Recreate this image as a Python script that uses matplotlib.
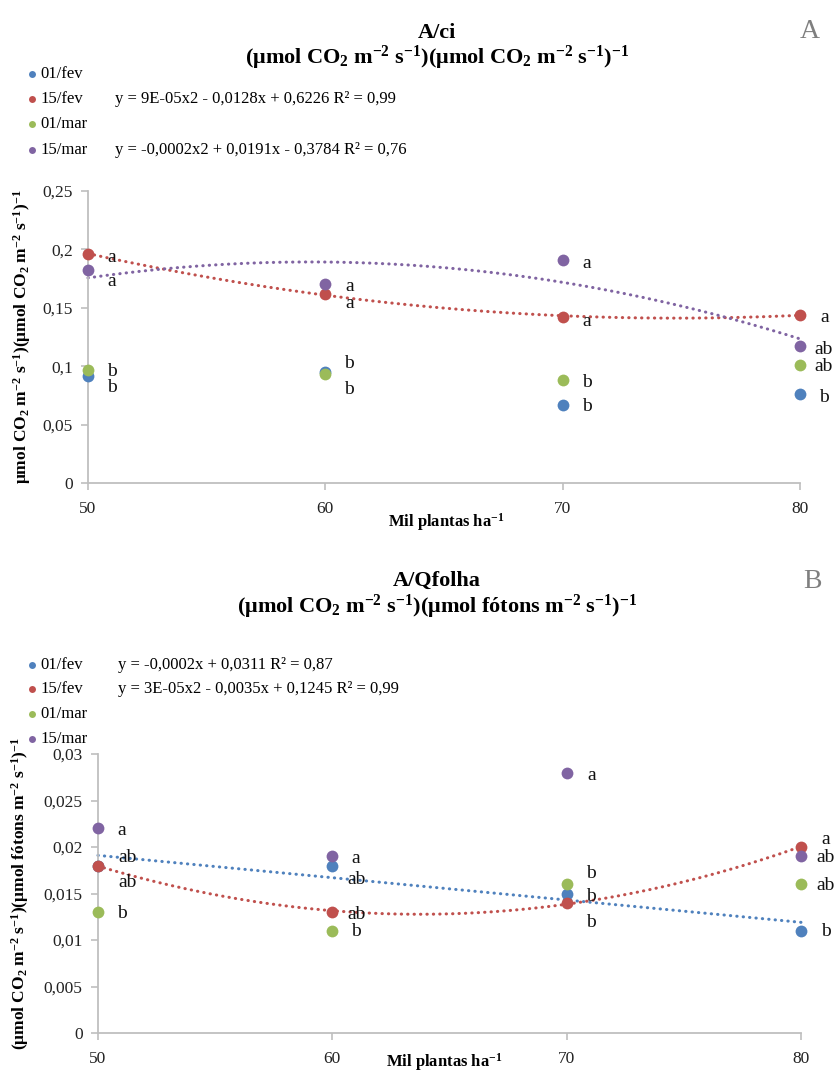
import numpy as np
import matplotlib
matplotlib.use("Agg")
import matplotlib.pyplot as plt
from matplotlib.lines import Line2D
from matplotlib.ticker import FuncFormatter, MultipleLocator

plt.rcParams['font.family'] = ['Liberation Serif', 'DejaVu Serif']
plt.rcParams['mathtext.fontset'] = 'custom'
plt.rcParams['mathtext.rm'] = 'Liberation Serif'
plt.rcParams['mathtext.bf'] = 'Liberation Serif:bold'
plt.rcParams['mathtext.it'] = 'Liberation Serif:italic'

# ---------------- data ----------------
densidade = [50, 60, 70, 80]
series = ['01/fev', '15/fev', '01/mar', '15/mar']
colors = ['#4F81BD', '#C0504D', '#9BBB59', '#8064A2']

# Panel A: A/ci
a_fev01 = [0.092, 0.095, 0.067, 0.076]
a_fev15 = [0.196, 0.162, 0.142, 0.144]
a_mar01 = [0.097, 0.093, 0.088, 0.101]
a_mar15 = [0.182, 0.170, 0.191, 0.117]
a_let_fev01 = ['b', 'b', 'b', 'b']
a_let_fev15 = ['a', 'a', 'a', 'a']
a_let_mar01 = ['b', 'b', 'b', 'ab']
a_let_mar15 = ['a', 'a', 'a', 'ab']
a_eq_fev15 = 'y = 9E-05x2 - 0,0128x + 0,6226 R² = 0,99'
a_eq_mar15 = 'y = -0,0002x2 + 0,0191x - 0,3784 R² = 0,76'

# Panel B: A/Qfolha
b_fev01 = [0.018, 0.018, 0.015, 0.011]
b_fev15 = [0.018, 0.013, 0.014, 0.020]
b_mar01 = [0.013, 0.011, 0.016, 0.016]
b_mar15 = [0.022, 0.019, 0.028, 0.019]
b_let_fev01 = ['ab', 'ab', 'b', 'b']
b_let_fev15 = ['ab', 'ab', 'b', 'a']
b_let_mar01 = ['b', 'b', 'b', 'ab']
b_let_mar15 = ['a', 'a', 'a', 'ab']
b_eq_fev01 = 'y = -0,0002x + 0,0311 R² = 0,87'
b_eq_fev15 = 'y = 3E-05x2 - 0,0035x + 0,1245 R² = 0,99'

# label offsets (pixels) per series per point -- layout only
a_off = [
    [(24, -12), (24, 9), (24, -2), (24, -3)],
    [(24, -3), (24, -10), (24, -4), (25, -3)],
    [(24, -2), (24, -15), (24, -2), (24, -1)],
    [(24, -11), (24, -2), (24, -4), (24, -3)],
]
b_off = [
    [(30, 8), (24, -14), (24, -3), (25, -1)],
    [(30, -17), (24, -2), (24, -20), (25, 7)],
    [(24, -1), (24, -1), (24, 11), (25, -1)],
    [(24, -2), (23, -2), (25, -3), (25, -1)],
]

W, H = 834, 1073
fig = plt.figure(figsize=(W / 100, H / 100), dpi=100)

def fx(px):
    return px / W

def fy(py):
    return 1 - py / H

comma = FuncFormatter(lambda v, p: ('{:g}'.format(round(v, 6))).replace('.', ','))
grey = '#BFBFBF'

def style_axes(ax, ymax, ystep):
    ax.set_xlim(50, 80)
    ax.set_ylim(0, ymax)
    ax.set_xticks(densidade)
    ax.yaxis.set_major_locator(MultipleLocator(ystep))
    ax.yaxis.set_major_formatter(comma)
    for s in ['top', 'right']:
        ax.spines[s].set_visible(False)
    for s in ['left', 'bottom']:
        ax.spines[s].set_color(grey)
        ax.spines[s].set_linewidth(1.3)
    ax.tick_params(axis='both', direction='out', length=5, width=1.2, color=grey,
                   labelsize=12.5, labelcolor='#222222')
    ax.tick_params(axis='y', pad=6)
    ax.tick_params(axis='x', pad=8)
    ax.patch.set_alpha(0)

def draw_panel(ax, data, letters, offs, fits):
    xs = np.linspace(50, 80, 200)
    for i, fit_deg in fits:
        coef = np.polyfit(densidade, data[i], fit_deg)
        ax.plot(xs, np.polyval(coef, xs), color=colors[i], lw=2.2,
                linestyle=(0, (0.1, 2.0)), dash_capstyle='round', zorder=2, clip_on=False)
    for i in range(4):
        ax.plot(densidade, data[i], 'o', color=colors[i], ms=8.5, zorder=3 + i,
                clip_on=False, markeredgewidth=0)
        for j in range(4):
            ax.annotate(letters[i][j], (densidade[j], data[i][j]), xytext=offs[i][j],
                        textcoords='offset pixels', ha='center', va='center',
                        fontsize=14, color='#111111', zorder=10, annotation_clip=False)

# ---------------- Panel A ----------------
ax1 = fig.add_axes([fx(88), fy(483), fx(800) - fx(88), fy(191) - fy(483)])
style_axes(ax1, 0.25, 0.05)
draw_panel(ax1, [a_fev01, a_fev15, a_mar01, a_mar15],
           [a_let_fev01, a_let_fev15, a_let_mar01, a_let_mar15], a_off,
           [(1, 2), (3, 2)])
ax1.set_xlabel(r'Mil plantas ha$^{\mathbf{-1}}$', fontsize=12, fontweight='bold')
ax1.xaxis.set_label_coords(0.503, (483 - 522) / 292)
ax1.xaxis.label.set_va('center')
ax1.set_ylabel(r'$\mathbf{μmol\ CO_2\ m^{-2}\ s^{-1})(μmol\ CO_2\ m^{-2}\ s^{-1})^{-1}}$',
               fontsize=12.5)
ax1.yaxis.set_label_coords((22 - 88) / 712, 0.5)
ax1.yaxis.label.set_va('center')

fig.text(fx(437), fy(33), 'A/ci', ha='center', va='center', fontsize=16, fontweight='bold')
fig.text(fx(437), fy(58),
         r'$\mathbf{(μmol\ CO_2\ m^{-2}\ s^{-1})(μmol\ CO_2\ m^{-2}\ s^{-1})^{-1}}$',
         ha='center', va='center', fontsize=16)
fig.text(fx(810), fy(32), 'A', ha='center', va='center', fontsize=20, color='#7F7F7F')

# ---------------- Panel B ----------------
ax2 = fig.add_axes([fx(98), fy(1033), fx(801) - fx(98), fy(754) - fy(1033)])
style_axes(ax2, 0.03, 0.005)
draw_panel(ax2, [b_fev01, b_fev15, b_mar01, b_mar15],
           [b_let_fev01, b_let_fev15, b_let_mar01, b_let_mar15], b_off,
           [(0, 1), (1, 2)])
ax2.set_xlabel(r'Mil plantas ha$^{\mathbf{-1}}$', fontsize=12, fontweight='bold')
ax2.xaxis.set_label_coords((444 - 98) / 703, (1033 - 1062) / 279)
ax2.xaxis.label.set_va('center')
ax2.set_ylabel(r'$\mathbf{(μmol\ CO_2\ m^{-2}\ s^{-1})(μmol\ fótons\ m^{-2}\ s^{-1})^{-1}}$',
               fontsize=12.5)
ax2.yaxis.set_label_coords((20 - 98) / 703, 0.5)
ax2.yaxis.label.set_va('center')

fig.text(fx(437), fy(581), 'A/Qfolha', ha='center', va='center', fontsize=16, fontweight='bold')
fig.text(fx(437), fy(607),
         r'$\mathbf{(μmol\ CO_2\ m^{-2}\ s^{-1})(μmol\ fótons\ m^{-2}\ s^{-1})^{-1}}$',
         ha='center', va='center', fontsize=16)
fig.text(fx(812), fy(582), 'B', ha='center', va='center', fontsize=20, color='#7F7F7F')

# ---------------- legends ----------------
def legend(rows_y, eqs, eq_x):
    for i, name in enumerate(series):
        y = rows_y[i]
        fig.add_artist(Line2D([fx(32)], [fy(y)], transform=fig.transFigure, marker='o',
                              ms=5, color=colors[i], linestyle='none', markeredgewidth=0))
        fig.text(fx(40), fy(y), name, ha='left', va='center', fontsize=12)
        if eqs[i]:
            fig.text(fx(eq_x), fy(y), eqs[i], ha='left', va='center', fontsize=12)

legend([74, 99, 124, 150], [None, a_eq_fev15, None, a_eq_mar15], 115)
legend([665, 689, 714, 739], [b_eq_fev01, b_eq_fev15, None, None], 118)

fig.savefig('out.png', dpi=100)
